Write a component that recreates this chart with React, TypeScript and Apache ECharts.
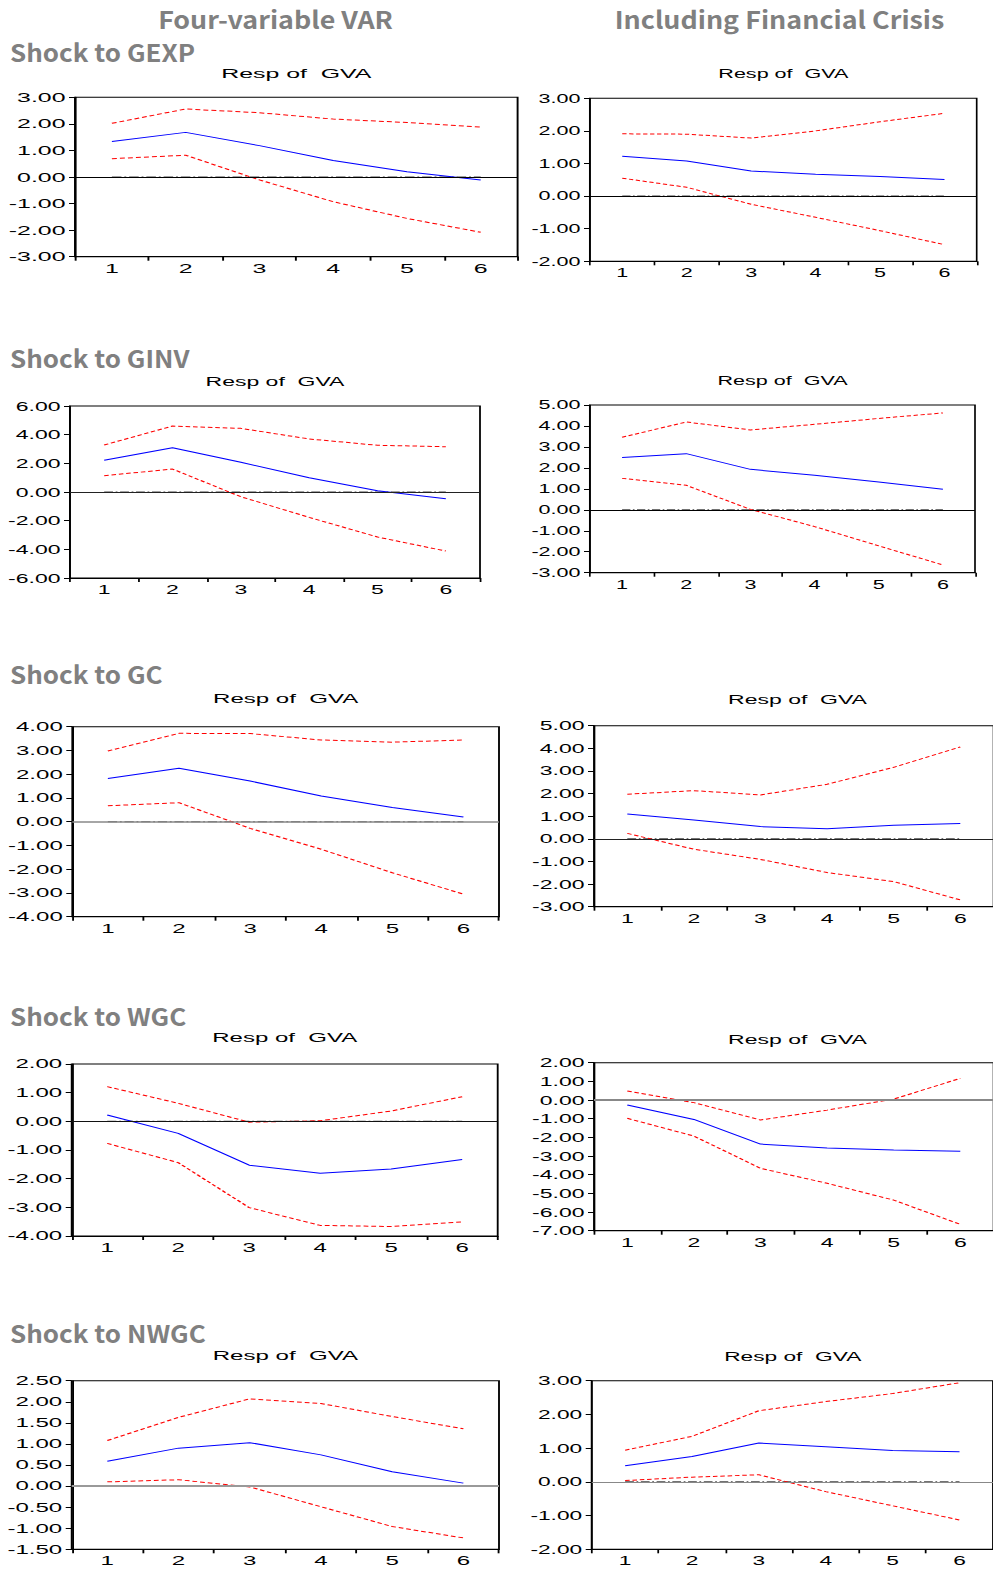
import React, { useEffect, useRef } from "react";
import * as echarts from "echarts";

// ---------- data ----------
const periods = ["1", "2", "3", "4", "5", "6"];
const zeroLine = [0, 0, 0, 0, 0, 0];

// Four-variable VAR
const gexpVarUpper = [2.02, 2.56, 2.42, 2.18, 2.05, 1.88];
const gexpVarResp = [1.34, 1.68, 1.18, 0.62, 0.2, -0.11];
const gexpVarLower = [0.69, 0.82, -0.11, -0.93, -1.56, -2.08];

const ginvVarUpper = [3.28, 4.6, 4.44, 3.7, 3.26, 3.16];
const ginvVarResp = [2.21, 3.09, 2.07, 1.0, 0.09, -0.47];
const ginvVarLower = [1.14, 1.6, -0.33, -1.77, -3.14, -4.12];

const gcVarUpper = [2.98, 3.72, 3.71, 3.44, 3.35, 3.44];
const gcVarResp = [1.82, 2.25, 1.71, 1.08, 0.6, 0.2];
const gcVarLower = [0.67, 0.8, -0.28, -1.16, -2.15, -3.05];

const wgcVarUpper = [1.21, 0.63, -0.03, 0.02, 0.36, 0.86];
const wgcVarResp = [0.22, -0.42, -1.53, -1.81, -1.66, -1.33];
const wgcVarLower = [-0.77, -1.44, -3.01, -3.63, -3.67, -3.51];

const nwgcVarUpper = [1.08, 1.63, 2.07, 1.96, 1.65, 1.36];
const nwgcVarResp = [0.59, 0.9, 1.03, 0.74, 0.34, 0.07];
const nwgcVarLower = [0.1, 0.15, -0.02, -0.49, -0.96, -1.23];

// Including Financial Crisis
const gexpFcUpper = [1.91, 1.9, 1.78, 2.0, 2.28, 2.54];
const gexpFcResp = [1.22, 1.08, 0.77, 0.67, 0.6, 0.51];
const gexpFcLower = [0.55, 0.27, -0.25, -0.65, -1.06, -1.49];

const ginvFcUpper = [3.46, 4.19, 3.81, 4.08, 4.36, 4.62];
const ginvFcResp = [2.49, 2.68, 1.93, 1.65, 1.33, 0.98];
const ginvFcLower = [1.5, 1.17, 0.02, -0.8, -1.72, -2.63];

const gcFcUpper = [1.97, 2.13, 1.94, 2.41, 3.16, 4.06];
const gcFcResp = [1.1, 0.83, 0.54, 0.45, 0.6, 0.68];
const gcFcLower = [0.24, -0.46, -0.91, -1.49, -1.89, -2.7];

const wgcFcUpper = [0.48, -0.14, -1.07, -0.54, 0.05, 1.16];
const wgcFcResp = [-0.27, -1.04, -2.36, -2.57, -2.68, -2.75];
const wgcFcLower = [-0.98, -1.93, -3.66, -4.46, -5.36, -6.66];

const nwgcFcUpper = [0.94, 1.35, 2.11, 2.38, 2.62, 2.94];
const nwgcFcResp = [0.48, 0.75, 1.15, 1.04, 0.93, 0.89];
const nwgcFcLower = [0.04, 0.14, 0.21, -0.29, -0.71, -1.13];

// axis ranges: [min, max, interval]
const axisRanges = [
  [-3, 3, 1], [-2, 3, 1],
  [-6, 6, 2], [-3, 5, 1],
  [-4, 4, 1], [-3, 5, 1],
  [-4, 2, 1], [-7, 2, 1],
  [-1.5, 2.5, 0.5], [-2, 3, 1],
];

const columnTitles = ["Four-variable VAR", "Including Financial Crisis"];
const shockTitles = ["Shock to GEXP", "Shock to GINV", "Shock to GC", "Shock to WGC", "Shock to NWGC"];
const panelTitle = "Resp of  GVA";

const seriesSets = [
  [gexpVarUpper, gexpVarResp, gexpVarLower],
  [gexpFcUpper, gexpFcResp, gexpFcLower],
  [ginvVarUpper, ginvVarResp, ginvVarLower],
  [ginvFcUpper, ginvFcResp, ginvFcLower],
  [gcVarUpper, gcVarResp, gcVarLower],
  [gcFcUpper, gcFcResp, gcFcLower],
  [wgcVarUpper, wgcVarResp, wgcVarLower],
  [wgcFcUpper, wgcFcResp, wgcFcLower],
  [nwgcVarUpper, nwgcVarResp, nwgcVarLower],
  [nwgcFcUpper, nwgcFcResp, nwgcFcLower],
];

// ---------- layout (page pixels) ----------
const PAGE_W = 993;
const PAGE_H = 1569;

// horizontal stretch of each panel picture
const stretch = [1.915, 1.658, 1.77, 1.658, 1.85, 1.77, 1.847, 1.77, 1.85, 1.748];
const colBands = [[0, 521], [521, 993]];
const rowBands = [[0, 288], [335, 608], [648, 948], [990, 1265], [1308, 1569]];

// [left, right, top, bottom, titleY]
const boxes = [
  [75, 517.6, 97.3, 256.7, 73],
  [590, 976.7, 98.3, 261.3, 74],
  [70, 480, 406, 578, 381],
  [590, 975, 405, 572.7, 381],
  [72.3, 499, 726.7, 916.7, 699],
  [594, 1001, 725.7, 906.7, 699],
  [71.7, 497.7, 1064, 1236, 1038],
  [594, 1001, 1062.7, 1230.7, 1039],
  [71.7, 499, 1380.7, 1549.3, 1356],
  [591.7, 993.7, 1380.7, 1549.3, 1356],
];
const zeroStyles = [
  ["#000", 1], ["#000", 1],
  ["#222", 1], ["#000", 1],
  ["#888", 1.5], ["#222", 1],
  ["#111", 1], ["#888", 2],
  ["#999", 2], ["#888", 1.2],
];
const shockY = [51, 357, 673, 1015, 1332];
const columnX = [275.5, 779.5];
const SHOCK_STRETCH = 1.082;
const COLUMN_STRETCH = 1.119;
const Y_LABEL_GAP = 9.5;
const Y_TICK_LEN = 6;

const AXIS_FONT = "'Liberation Sans', Arial, Helvetica, sans-serif";
const HEAD_FONT = "'Noto Sans CJK SC', 'Noto Sans', sans-serif";

function buildOption(i: number) {
  const S = stretch[i];
  const row = Math.floor(i / 2);
  const col = i % 2;
  const bandL = colBands[col][0];
  const bandT = rowBands[row][0];
  const [l, r, t, btm, ty] = boxes[i];
  const [mn, mx, iv] = axisRanges[i];
  const [up, resp, lo] = seriesSets[i];
  const [zc, zw] = zeroStyles[i];

  const graphic: any[] = [
    {
      type: "text",
      x: ((l + r) / 2 - bandL) / S,
      y: ty - bandT,
      silent: true,
      style: {
        text: panelTitle,
        fill: "#000",
        fontSize: 13,
        fontFamily: AXIS_FONT,
        align: "center",
        verticalAlign: "middle",
      },
    },
  ];
  if (row === 0) {
    graphic.push({
      type: "text",
      x: (columnX[col] - bandL) / S,
      y: 18 - bandT,
      scaleX: COLUMN_STRETCH / S,
      silent: true,
      style: {
        text: columnTitles[col],
        fill: "#808080",
        fontSize: 24,
        fontWeight: "bold",
        fontFamily: HEAD_FONT,
        align: "center",
        verticalAlign: "middle",
      },
    });
  }
  if (col === 0) {
    graphic.push({
      type: "text",
      x: (10 - bandL) / S,
      y: shockY[row] - bandT,
      scaleX: SHOCK_STRETCH / S,
      silent: true,
      style: {
        text: shockTitles[row],
        fill: "#808080",
        fontSize: 24,
        fontWeight: "bold",
        fontFamily: HEAD_FONT,
        align: "left",
        verticalAlign: "middle",
      },
    });
  }

  const redLine = (d: number[]) => ({
    type: "line",
    data: d,
    symbol: "none",
    silent: true,
    z: 3,
    lineStyle: { color: "#ff0000", width: 1, type: [2.6, 1.6] },
  });

  return {
    animation: false,
    backgroundColor: "transparent",
    grid: {
      left: (l - bandL) / S,
      top: t - bandT,
      width: (r - l) / S,
      height: btm - t,
      show: true,
      borderColor: "#000",
      borderWidth: 1,
      backgroundColor: "transparent",
    },
    xAxis: {
      type: "category",
      data: periods,
      boundaryGap: true,
      axisLine: { show: true, onZero: false, lineStyle: { color: "#000", width: 1 } },
      axisTick: { show: true, length: 4, alignWithLabel: false, lineStyle: { color: "#000" } },
      axisLabel: { interval: 0, color: "#000", fontSize: 13, fontFamily: AXIS_FONT, margin: 5 },
      splitLine: { show: false },
    },
    yAxis: {
      type: "value",
      min: mn,
      max: mx,
      interval: iv,
      axisLine: { show: true, lineStyle: { color: "#000", width: 1 } },
      axisTick: { show: true, length: Y_TICK_LEN / S, lineStyle: { color: "#000" } },
      axisLabel: {
        color: "#000",
        fontSize: 13,
        fontFamily: AXIS_FONT,
        margin: Y_LABEL_GAP / S,
        showMinLabel: true,
        showMaxLabel: true,
        formatter: (v: number) => v.toFixed(2),
      },
      splitLine: { show: false },
    },
    series: [
      {
        type: "line",
        data: zeroLine,
        symbol: "none",
        silent: true,
        z: 2,
        lineStyle: { color: "#444", width: 1.1, type: [5, 1.5, 1, 1.5] },
        markLine: {
          silent: true,
          symbol: ["none", "none"],
          label: { show: false },
          lineStyle: { color: zc, width: zw, type: "solid" },
          data: [{ yAxis: 0 }],
        },
      },
      redLine(up),
      redLine(lo),
      {
        type: "line",
        data: resp,
        symbol: "none",
        silent: true,
        z: 4,
        lineStyle: { color: "#0000ff", width: 1, type: "solid" },
      },
    ],
    graphic,
  };
}

function Panel({ index }: { index: number }) {
  const ref = useRef<HTMLDivElement>(null);
  const S = stretch[index];
  const row = Math.floor(index / 2);
  const col = index % 2;
  const [bl, br] = colBands[col];
  const [bt, bb] = rowBands[row];
  useEffect(() => {
    if (!ref.current) return;
    const chart = echarts.init(ref.current, null, { renderer: "svg" });
    chart.setOption(buildOption(index) as any);
    return () => chart.dispose();
  }, [index]);
  return (
    <div
      ref={ref}
      style={{
        position: "absolute",
        left: bl,
        top: bt,
        width: (br - bl) / S,
        height: bb - bt,
        transform: `scaleX(${S})`,
        transformOrigin: "0 0",
      }}
    />
  );
}

export default function App() {
  return (
    <div
      style={{
        position: "absolute",
        left: 0,
        top: 0,
        width: PAGE_W,
        height: PAGE_H,
        overflow: "hidden",
        background: "#fff",
      }}
    >
      {boxes.map((_, i) => (
        <Panel key={i} index={i} />
      ))}
    </div>
  );
}
